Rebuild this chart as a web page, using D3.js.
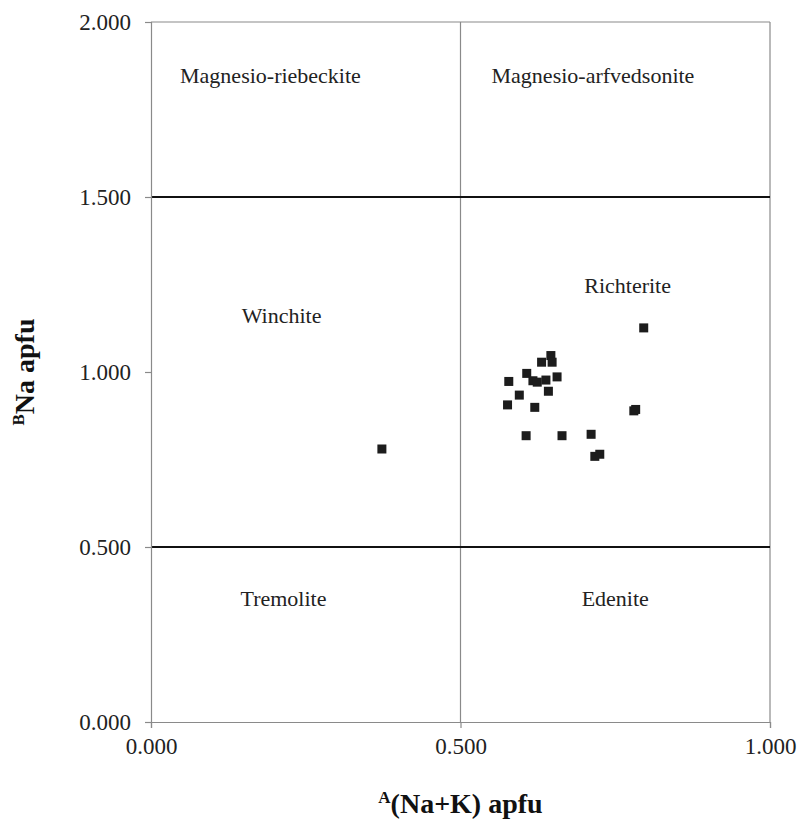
<!DOCTYPE html>
<html>
<head>
<meta charset="utf-8">
<script src="https://cdn.jsdelivr.net/npm/d3@7"></script>
<style>
  body { margin: 0; background: #fff; }
</style>
</head>
<body>
<div id="chart"></div>
<script>
// amphibole classification plot: A(Na+K) vs BNa

const xTicks = [0, 0.5, 1];
const yTicks = [0, 0.5, 1, 1.5, 2];

// boundary lines between fields
const hBounds = [0.5, 1.5];   // black, heavy
const vBounds = [0.5];        // grey, thin

// field names and where they sit (data units)
const fieldNames = ['Magnesio-riebeckite', 'Magnesio-arfvedsonite', 'Winchite', 'Richterite', 'Tremolite', 'Edenite'];
const fieldX = [0.193, 0.714, 0.211, 0.770, 0.214, 0.750];
const fieldY = [1.840, 1.840, 1.155, 1.240, 0.345, 0.345];

// samples
const naK = [0.373, 0.796, 0.646, 0.631, 0.648, 0.607, 0.656, 0.578, 0.617, 0.624, 0.638, 0.642,
             0.595, 0.576, 0.620, 0.780, 0.783, 0.606, 0.664, 0.711, 0.717, 0.725];
const bNa = [0.780, 1.126, 1.047, 1.028, 1.028, 0.996, 0.986, 0.973, 0.975, 0.971, 0.977, 0.945,
             0.934, 0.906, 0.899, 0.889, 0.893, 0.818, 0.818, 0.822, 0.759, 0.765];

const W = 799, H = 822;
const FONT = '"Liberation Serif", "Times New Roman", Times, serif';

const svg = d3.select('#chart').append('svg')
  .attr('width', W).attr('height', H)
  .attr('font-family', FONT);

const x = d3.scaleLinear().domain([0, 1]).range([151, 770]);
const y = d3.scaleLinear().domain([0, 2]).range([722, 22]);

const grey = '#8a8a8a';
const fmt = d3.format('.3f');

// frame: top and right edges
svg.append('line')
  .attr('x1', x(0)).attr('x2', x(1)).attr('y1', y(2)).attr('y2', y(2))
  .attr('stroke', grey).attr('stroke-width', 1.2);
svg.append('line')
  .attr('x1', x(1)).attr('x2', x(1)).attr('y1', y(2)).attr('y2', y(0))
  .attr('stroke', grey).attr('stroke-width', 1.2);

// vertical boundary
svg.append('g').selectAll('line').data(vBounds).join('line')
  .attr('x1', d => x(d)).attr('x2', d => x(d))
  .attr('y1', y(2)).attr('y2', y(0))
  .attr('stroke', grey).attr('stroke-width', 1.2);

// horizontal boundaries
svg.append('g').selectAll('line').data(hBounds).join('line')
  .attr('x1', x(0)).attr('x2', x(1))
  .attr('y1', d => y(d)).attr('y2', d => y(d))
  .attr('stroke', '#111').attr('stroke-width', 1.8);

// axes
const xAxis = svg.append('g')
  .attr('transform', `translate(0,${y(0)})`)
  .call(d3.axisBottom(x).tickValues(xTicks).tickFormat(fmt).tickSizeOuter(0).tickSize(6).tickPadding(10));
const yAxis = svg.append('g')
  .attr('transform', `translate(${x(0)},0)`)
  .call(d3.axisLeft(y).tickValues(yTicks).tickFormat(fmt).tickSizeOuter(0).tickSize(6).tickPadding(14));

[xAxis, yAxis].forEach(a => {
  a.attr('font-family', FONT).attr('font-size', 23);
  a.select('.domain').attr('stroke', grey).attr('stroke-width', 1.2);
  a.selectAll('.tick line').attr('stroke', grey).attr('stroke-width', 1.2);
  a.selectAll('.tick text').attr('fill', '#222');
});

// field labels
svg.append('g').selectAll('text').data(fieldNames).join('text')
  .attr('x', (d, i) => x(fieldX[i]))
  .attr('y', (d, i) => y(fieldY[i]))
  .attr('text-anchor', 'middle')
  .attr('dominant-baseline', 'middle')
  .attr('fill', '#222')
  .attr('font-size', 22)
  .text(d => d);

// sample points
const sz = 9;
svg.append('g').selectAll('rect').data(naK).join('rect')
  .attr('x', (d, i) => x(d) - sz / 2)
  .attr('y', (d, i) => y(bNa[i]) - sz / 2)
  .attr('width', sz).attr('height', sz)
  .attr('fill', '#1c1c1c');

// axis titles
const xt = svg.append('text')
  .attr('x', x(0.5)).attr('y', 813)
  .attr('text-anchor', 'middle')
  .attr('fill', '#111')
  .attr('font-size', 28).attr('font-weight', 'bold');
xt.append('tspan').attr('font-size', 17).attr('dy', -10).text('A');
xt.append('tspan').attr('dy', 10).text('(Na+K) apfu');

const yt = svg.append('text')
  .attr('transform', `translate(34,${y(1)}) rotate(-90)`)
  .attr('text-anchor', 'middle')
  .attr('fill', '#111')
  .attr('font-size', 28).attr('font-weight', 'bold');
yt.append('tspan').attr('font-size', 17).attr('dy', -10).text('B');
yt.append('tspan').attr('dy', 10).text('Na apfu');
</script>
</body>
</html>
